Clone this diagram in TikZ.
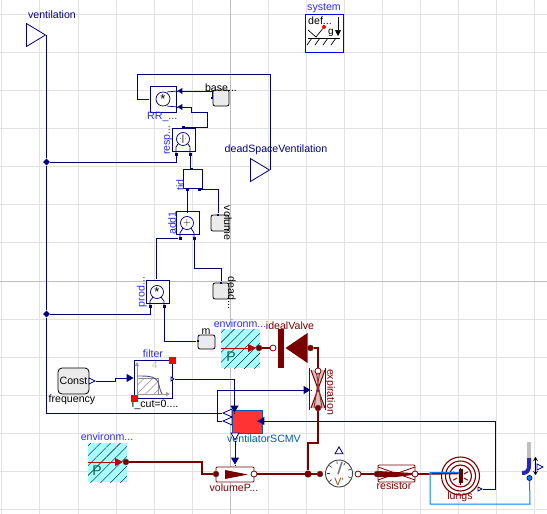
\documentclass[tikz,border=0pt]{standalone}
\usepackage{fontspec}
\setmainfont{Liberation Sans}
\usepackage{xcolor}
\usetikzlibrary{shapes.geometric, arrows.meta, positioning, patterns.meta}
\definecolor{sigblue}{HTML}{00007F}
\definecolor{fluidred}{HTML}{7A0000}
\definecolor{namblue}{HTML}{2A2AF0}
\definecolor{gridgray}{HTML}{E2E2E2}
\definecolor{envcyan}{HTML}{A6FFFF}

\begin{document}
\begin{tikzpicture}[
    x=1pt, y=-1pt,
    % Block with a math circle
    blk/.style={
        rectangle, draw=sigblue, fill=white, line width=1pt,
        minimum width=23pt, minimum height=23pt, inner sep=0pt
    },
    opcirc/.style={
        circle, draw=sigblue, fill=white, line width=0.7pt,
        minimum size=13pt, inner sep=0pt, font=\fontsize{13}{13}\selectfont, text=black
    },
    % Parameter boxes
    parm/.style={
        rectangle, rounded corners=2pt, draw=black, fill=black!8, line width=0.8pt,
        minimum width=16pt, minimum height=16pt, inner sep=0pt
    },
    % Signal pins
    pin/.style={rectangle, fill=sigblue, minimum size=3pt, inner sep=0pt},
    junc/.style={circle, fill=sigblue, minimum size=6pt, inner sep=0pt},
    outtri/.style={
        isosceles triangle, isosceles triangle stretches, draw=sigblue, fill=white,
        line width=0.8pt, minimum width=6pt, minimum height=6pt, inner sep=0pt
    },
    ioport/.style={
        isosceles triangle, isosceles triangle stretches, draw=sigblue, fill=white,
        line width=0.8pt, minimum width=23pt, minimum height=19pt, inner sep=0pt
    },
    % Fluid ports
    fport/.style={circle, draw=black!70, fill=fluidred, minimum size=6pt, inner sep=0pt},
    oport/.style={circle, draw=fluidred, fill=white, line width=0.8pt, minimum size=6pt, inner sep=0pt},
    % Pressure source
    envbox/.style={
        rectangle, minimum size=39pt, inner sep=0pt,
        preaction={fill=envcyan},
        pattern={Lines[angle=45,distance=7pt,line width=0.4pt]}, pattern color=black
    },
    % Text
    nam/.style={font=\fontsize{10.6}{11}\selectfont, text=namblue, inner sep=0pt},
    navnam/.style={font=\fontsize{10.6}{11}\selectfont, text=sigblue, inner sep=0pt},
    blknam/.style={font=\fontsize{10.6}{11}\selectfont, text=black, inner sep=0pt},
    rednam/.style={font=\fontsize{10.6}{11}\selectfont, text=fluidred, inner sep=0pt},
    % Wires
    wire/.style={draw=sigblue, line width=1pt},
    arr/.style={wire, -{Triangle[length=7pt,width=8pt]}},
    sarr/.style={wire, -{Triangle[length=5pt,width=6pt]}},
    pipe/.style={draw=fluidred, line width=2.2pt},
]

\useasboundingbox (0,0) rectangle (547,514);

% ===== GRID =====
\foreach \gx in {1,39,78,116,154,192,268,306,344,382,420,458,496,534}
    \draw[gridgray, line width=0.9pt] (\gx,0) -- (\gx,514);
\foreach \gy in {14,52,90,128,166,204,242,319,357,395,433,471,509}
    \draw[gridgray, line width=0.9pt] (0,\gy) -- (547,\gy);
\draw[black!25, line width=0.9pt] (230,0) -- (230,514);
\draw[black!25, line width=0.9pt] (0,281) -- (547,281);

% ===== SYSTEM =====
\node[rectangle, draw=blue!90!black, fill=white, line width=1pt, minimum size=38pt, inner sep=0pt] (system) at (324,33) {};
\node[nam] (system_lab) at (324,8) {system};
\node[font=\fontsize{10.6}{11}\selectfont, inner sep=0pt] (system_def) at (320,20.5) {def...};
\node[font=\fontsize{10}{10}\selectfont, inner sep=0pt] (system_g) at (331,33) {g};
\node[circle, fill=red, minimum size=4pt, inner sep=0pt] (system_dot) at (324,27) {};
\draw[line width=0.7pt] (308,38) -- (340,38);
\foreach \hx in {312,320,328,336}
    \draw[line width=0.7pt] (\hx,38) -- (\hx-5,45);
\draw[line width=0.7pt] (308,30) -- (316,37) -- (system_dot);
\draw[line width=0.7pt, -{Triangle[length=6pt,width=6pt]}] (338,17) -- (338,36);

% ===== INPUTS AND OUTPUTS =====
\node[ioport, anchor=apex] (in_vent) at (46.5,35) {};
\node[navnam] (in_vent_lab) at (52,15) {ventilation};
\node[ioport, anchor=apex] (out_dead) at (270.5,170) {};
\node[navnam] (out_dead_lab) at (276,150) {deadSpaceVentilation};

% ===== MATH BLOCKS =====
\node[blk, minimum width=26pt, minimum height=26pt] (rr) at (163.5,99.5) {};
\node[opcirc, minimum size=14pt] (rr_op) at (163,99) {*};
\node[nam, anchor=west] (rr_lab) at (147,116.5) {RR\_...};
\draw[sigblue, line width=0.7pt] (167,92) -- (177,91) (167,106) -- (177,107);

\node[blk] (resp) at (183.5,139.5) {};
\node[opcirc, font=\fontsize{9}{9}\selectfont] (resp_op) at (183,139) {$\cdot$|$\cdot$};
\node[nam, rotate=90] (resp_lab) at (168,140) {resp...};
\draw[sigblue, line width=0.7pt] (176,154) -- (176,147) -- (178,144) (190,154) -- (190,147) -- (188,144);

\node[blk, minimum width=19pt, minimum height=19pt] (tid) at (192.5,178.5) {};
\node[nam, rotate=90] (tid_lab) at (180,185) {tid};

\node[blk] (add1) at (187.5,223) {};
\node[opcirc, font=\fontsize{10}{10}\selectfont] (add1_op) at (187,223) {$+$};
\node[nam, rotate=90] (add1_lab) at (172,223) {add1};
\draw[sigblue, line width=0.7pt] (180,238) -- (180,233) -- (183,228) (194,238) -- (194,233) -- (191,228);

\node[blk] (prod) at (157.5,291.5) {};
\node[opcirc] (prod_op) at (157,292) {*};
\node[nam, rotate=90] (prod_lab) at (142,292) {prod...};
\draw[sigblue, line width=0.7pt] (150,306) -- (150,301) -- (153,297) (164,306) -- (164,301) -- (161,297);

% Pins of the blocks
\node[pin] (resp_a) at (176,154) {};
\node[pin] (resp_b) at (190,154) {};
\node[pin] (resp_out) at (183,127) {};
\node[pin] (tid_a) at (187,189.5) {};
\node[pin] (tid_b) at (199,189.5) {};
\node[pin] (add1_a) at (180,238) {};
\node[pin] (add1_b) at (194,238) {};
\node[pin] (prod_a) at (150,306) {};
\node[pin] (prod_b) at (164,306) {};
\node[pin, minimum size=1pt] (rr_out) at (150,99) {};
\node[pin, minimum size=1pt] (tid_in) at (192.5,168.5) {};
\node[pin, minimum size=1pt] (add1_in) at (187,212) {};
\node[pin, minimum size=1pt] (prod_in) at (156,280) {};
\node[pin, minimum size=0.5pt] (rr_a) at (177,91) {};
\node[pin, minimum size=0.5pt] (rr_b) at (177,107) {};

% ===== PARAMETERS =====
\node[parm] (base) at (221,98) {};
\node[blknam] (base_lab) at (221,88) {base...};
\node[pin, minimum size=2pt] (base_in) at (212,98) {};

\node[parm, minimum width=18pt] (volume) at (220,223) {};
\node[blknam, rotate=-90] (volume_lab) at (228,223) {volume};
\node[pin, minimum size=2pt] (volume_in) at (218,214.5) {};

\node[parm] (dead) at (221,291) {};
\node[blknam, rotate=-90] (dead_lab) at (232,293) {dead...};
\node[pin, minimum size=2pt] (dead_in) at (221,282.5) {};

\node[parm, minimum width=17pt, minimum height=14pt] (mass) at (206.5,342) {};
\node[blknam] (mass_lab) at (206,332) {m};
\node[pin, minimum size=2pt] (mass_in) at (197.5,341) {};

% ===== FREQUENCY AND FILTER =====
\node[parm, rounded corners=4pt, minimum width=31pt, minimum height=26pt, font=\fontsize{10.6}{11}\selectfont] (const) at (73.5,381) {Const};
\node[blknam] (const_lab) at (72,399.5) {frequency};
\node[outtri, anchor=apex] (const_out) at (96,381) {};

\node[rectangle, draw=sigblue, fill=white, line width=1pt, minimum size=38pt, inner sep=0pt] (filter) at (153,379) {};
\node[nam] (filter_lab) at (153,354) {filter};
\node[blknam] (filter_par) at (155,404.5) {f\_cut=0....};
\node[font=\fontsize{10}{10}\selectfont, text=black!25, inner sep=0pt] (filter_ord) at (155,365.5) {4};
\node[rectangle, minimum width=21pt, minimum height=16pt, inner sep=0pt, draw=black!45,
    pattern={Lines[angle=45,distance=6pt,line width=0.5pt]}, pattern color=black!45] (filter_hatch) at (147.5,386) {};
\draw[black!40, line width=0.9pt, -{Triangle[length=4pt,width=4pt]}] (137,394) -- (137,362);
\draw[black!40, line width=0.9pt, -{Triangle[length=4pt,width=4pt]}] (137,394) -- (170,394);
\draw[sigblue!70, line width=0.9pt] (137,376) .. controls (150,376) and (157,376) .. (159,385) .. controls (160,390) and (161,392) .. (162,394);
\node[rectangle, fill=red, minimum size=7pt, inner sep=0pt] (filter_ra) at (172,360) {};
\node[rectangle, fill=red, minimum size=7pt, inner sep=0pt] (filter_rb) at (134,398) {};
\node[pin, minimum size=0.5pt] (filter_in) at (134,378) {};
\node[outtri, minimum width=4pt, minimum height=3pt, anchor=apex] (filter_out) at (175,379) {};

% ===== VENTILATOR =====
\node[rectangle, draw=blue!50!cyan!70!black, fill=red!80!white, line width=1pt, minimum width=30pt, minimum height=23pt, inner sep=0pt] (scmv) at (247,421.5) {};
\node[font=\fontsize{10.6}{11}\selectfont, text=blue!50!cyan!70!black, inner sep=0pt] (scmv_lab) at (264,439) {ventilatorSCMV};
\node[outtri, minimum width=8pt, minimum height=9pt, shape border rotate=180, anchor=apex] (scmv_o1) at (222,413) {};
\node[outtri, minimum width=8pt, minimum height=9pt, shape border rotate=180, anchor=apex] (scmv_o2) at (222,421) {};
\node[outtri, minimum width=8pt, minimum height=7pt, shape border rotate=-90, anchor=apex] (scmv_o3) at (235,441) {};
\node[pin, minimum size=0.5pt] (scmv_a) at (234.5,413) {};
\node[pin, minimum size=0.5pt] (scmv_b) at (257,421) {};

% ===== ENVIRONMENTS =====
\node[envbox] (env_top) at (240.5,348.5) {};
\node[nam] (env_top_lab) at (240,324) {environm...};
\draw[draw=red!75!black, line width=0.9pt, -{Triangle[length=8pt,width=8pt]}] (221,348) -- (256,348);
\node[font=\fontsize{14}{14}\selectfont, text=sigblue!60!green, inner sep=0pt] (env_top_p) at (231,357) {P};
\node[fport] (env_top_out) at (259,348) {};

\node[envbox] (env_bot) at (107.5,462.5) {};
\node[nam] (env_bot_lab) at (107,437) {environm...};
\draw[draw=red!75!black, line width=0.9pt, -{Triangle[length=8pt,width=8pt]}] (88,462) -- (123,462);
\node[font=\fontsize{14}{14}\selectfont, text=sigblue!60!green, inner sep=0pt] (env_bot_p) at (97,471) {P};
\node[fport] (env_bot_out) at (126,462) {};

% ===== VALVE AND EXPIRATION =====
\node[rectangle, fill=fluidred, minimum width=6pt, minimum height=39pt, inner sep=0pt] (valve_bar) at (281,348.5) {};
\node[isosceles triangle, isosceles triangle stretches, shape border rotate=180, fill=fluidred, minimum width=30pt, minimum height=22pt, inner sep=0pt, anchor=apex] (valve_tri) at (285,348) {};
\node[rednam] (valve_lab) at (290,326) {idealValve};
\node[oport] (valve_in) at (273,348) {};
\node[fport] (valve_out) at (310.5,348) {};

\node[rectangle, minimum width=16pt, minimum height=42pt, inner sep=0pt] (expir) at (317.5,389) {};
\fill[fluidred!25] (311,370) -- (318,389) -- (325,370) -- cycle (311,408) -- (318,389) -- (325,408) -- cycle;
\draw[fluidred, line width=1pt] (311,370) -- (325,408) (325,370) -- (311,408);
\draw[fluidred!80, line width=1pt] (316,370) -- (322,408) (320,370) -- (314,408);
\draw[fluidred, line width=0.8pt] (309,368) -- (309,410) (325,368) -- (325,410);
\node[rednam, rotate=-90] (expir_lab) at (330,392) {expiration};
\node[oport] (expir_a) at (318,371) {};
\node[fport] (expir_b) at (318,408) {};
\node[pin, minimum size=0.5pt] (expir_in) at (311,390) {};

% ===== VOLUME PUMP =====
\node[rectangle, rounded corners=1pt, draw=fluidred, fill=white, line width=0.9pt, minimum width=38pt, minimum height=15pt, inner sep=0pt] (vpump) at (235,474.5) {};
\fill[fluidred] (225,470) -- (248,474.5) -- (225,479) -- cycle;
\node[rednam] (vpump_lab) at (234,487.5) {volumeP...};
\node[fport] (vpump_a) at (216,474) {};
\node[oport] (vpump_b) at (254,474) {};
\node[pin, minimum size=0.5pt] (vpump_in) at (235,465) {};
\node[circle, fill=fluidred, minimum size=7pt, inner sep=0pt] (jfluid) at (308,474) {};

% ===== SENSOR =====
\node[circle, draw=black!75, fill=white, line width=0.9pt, minimum size=27pt, inner sep=0pt] (sensor) at (339,473.5) {};
\foreach \ang in {-20,20,60,100,140,180,220}
    \draw[black!80, line width=0.6pt] (339,473.5) ++(\ang:9.5pt) -- ++(\ang:3pt);
\draw[black!50, line width=1.6pt] (338,474) -- (342,462);
\node[font=\fontsize{10.6}{11}\selectfont, text=orange!60!black, inner sep=0pt] (sensor_v) at (339,482) {V'};
\node[isosceles triangle, isosceles triangle stretches, shape border rotate=90, draw=sigblue, fill=white, line width=0.8pt, minimum width=8pt, minimum height=7pt, inner sep=0pt] (sensor_tri) at (339,451.5) {};
\node[fport] (sensor_a) at (320,474) {};
\node[oport] (sensor_b) at (358,474) {};

% ===== RESISTOR =====
\node[rectangle, rounded corners=1pt, draw=fluidred, fill=white, line width=0.8pt, minimum width=37pt, minimum height=17pt, inner sep=0pt] (resistor) at (396.5,473.5) {};
\draw[fluidred, line width=0.8pt] (378,467) -- (415,480) (378,480) -- (415,467);
\fill[fluidred] (378,471) -- (396,472) -- (412,473) -- (412,475) -- (396,477) -- (378,477) -- cycle;
\node[rednam] (resistor_lab) at (394,486) {resistor};
\node[fport] (resistor_a) at (377,474) {};
\node[oport] (resistor_b) at (415,474) {};

% ===== LUNGS =====
\node[circle, draw=fluidred, line width=1.1pt, minimum size=38pt, inner sep=0pt] (lungs) at (460.5,476) {};
\node[circle, draw=fluidred, line width=1.1pt, minimum size=30pt, inner sep=0pt] (lungs_mid) at (460.5,476) {};
\node[circle, draw=fluidred, line width=1.1pt, minimum size=22pt, inner sep=0pt] (lungs_in) at (460.5,476) {};
\foreach \ang in {30,90,150,210,270,330}
    \draw[fluidred, line width=1pt] (460.5,476) ++(\ang:4pt) -- ++(\ang:4.5pt);
\fill[fluidred!80!black] (458.5,469) rectangle (462.5,483);
\node[rednam] (lungs_lab) at (460,497) {lungs};
\node[outtri, minimum width=4pt, minimum height=4pt, anchor=apex] (lungs_out) at (483,489) {};
\node[pin, minimum size=0.5pt] (lungs_fl) at (459,473.5) {};
\coordinate (lungs_hp) at (459,472.5);

% ===== POSITION SOURCE =====
\draw[draw=black!25, line width=4pt] (529,442) -- (529,458);
\draw[draw=blue!65!black!85, line width=4pt] (529,458) -- (529,465) .. controls (529,472) and (526,473) .. (522,473);
\draw[line width=1.2pt, {Stealth[length=4pt,width=5pt]}-{Stealth[length=4pt,width=5pt]}] (535.5,457) -- (535.5,475);
\node[outtri, draw=blue!60!black, anchor=apex] (pos_out) at (544,467) {};
\node[circle, draw=sigblue, fill=blue!50!cyan, line width=0.8pt, minimum size=5pt, inner sep=0pt] (pos_flange) at (529.5,478) {};

% ===== SIGNAL WIRES =====
\node[junc, diamond, minimum size=7pt] (j_upper) at (46.5,162) {};
\node[junc, diamond, minimum size=7pt] (j_lower) at (46.5,314) {};

\draw[wire] (in_vent.apex) -- (j_upper);
\draw[wire] (j_upper) -- (j_lower);
\draw[wire] (j_lower) |- (scmv_o1.apex);
\draw[wire] (j_upper) -| (resp_a);
\draw[wire] (j_lower) -| (prod_a);

\draw[wire] (rr_out) -- ++(-13,0) |- (270.5,74) -- (out_dead.apex);
\draw[sarr] (base_in) |- (rr_a);
\draw[sarr] (resp_out) -- ++(24,0) |- (191,112) |- (rr_b);
\draw[wire] (resp_b) |- (tid_in);
\draw[wire] (tid_a) -- (add1_in);
\draw[wire] (tid_b) -| (volume_in);
\draw[wire] (add1_a) -| (prod_in);
\draw[wire] (add1_b) -- ++(0,30) -| (dead_in);
\draw[wire] (prod_b) |- (mass_in);

\draw[arr] (const_out.apex) -- ++(19,0) |- (filter_in);
\draw[arr] (filter_out.apex) -| (scmv_a);
\draw[arr] (scmv_o2.apex) -- ++(-5,0) |- (expir_in);
\draw[arr] (scmv_o3.apex) -- (vpump_in);
\draw[arr] (lungs_out.apex) -- ++(12,0) |- (scmv_b);

% ===== FLUID WIRES =====
\draw[pipe] (env_top_out) -- (valve_in);
\draw[pipe] (valve_out) -| (expir_a);
\draw[pipe] (expir_b) -- ++(0,35) -| (jfluid);
\draw[pipe] (env_bot_out) -- ++(76,0) |- (vpump_a);
\draw[pipe] (vpump_b) -- (sensor_a);
\draw[pipe] (sensor_b) -- (resistor_a);
\draw[pipe] (resistor_b) -- (429,474);
\draw[fluidred, line width=1.4pt] (429,474) -- (lungs_fl);
\draw[draw=blue!50!cyan, line width=1pt] (lungs_hp) -- ++(-29,0) |- (530,504) -- (pos_flange);

\end{tikzpicture}
\end{document}
